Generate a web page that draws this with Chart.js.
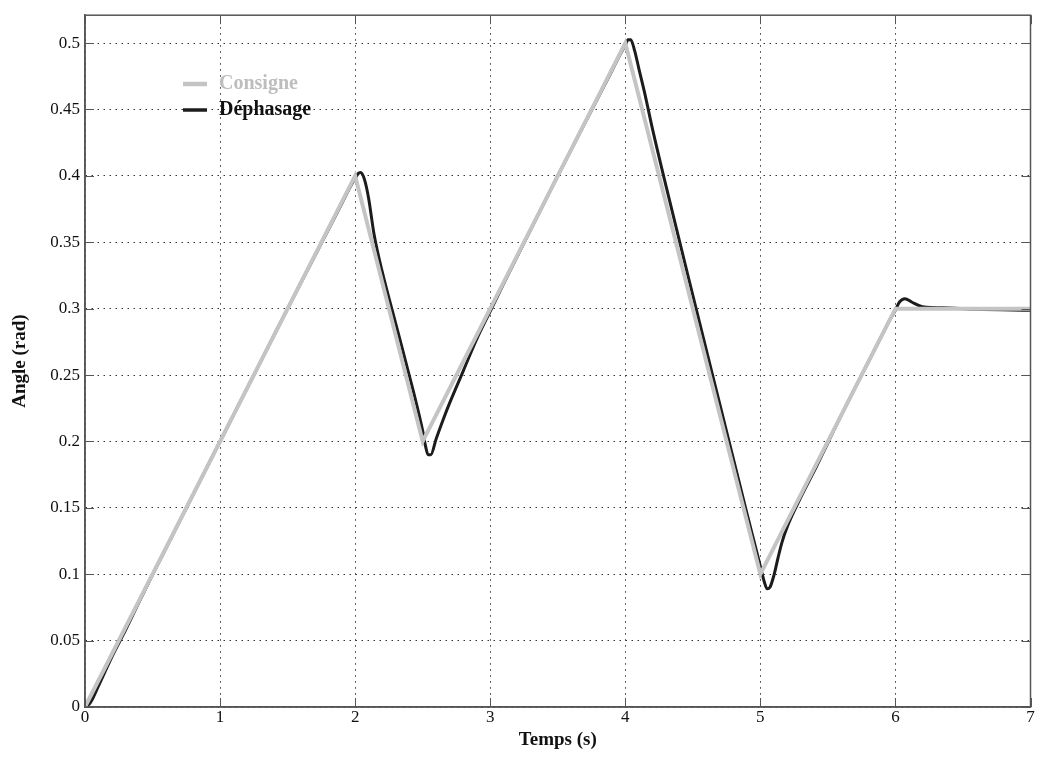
<!DOCTYPE html>
<html>
<head>
<meta charset="utf-8">
<script src="https://cdn.jsdelivr.net/npm/chart.js@4/dist/chart.umd.min.js"></script>
<style>
  html, body { margin: 0; padding: 0; background: #ffffff; }
  #wrap { width: 1041px; height: 764px; }
</style>
</head>
<body>
<div id="wrap"><canvas id="c" width="1041" height="764"></canvas></div>
<script>
// ---- Data ----
const consigneT = [0, 2, 2.5, 4, 5, 6, 7];
const consigneV = [0, 0.4, 0.2, 0.5, 0.1, 0.3, 0.3];

const dephasageT = [0, 0.03, 0.06, 0.1, 0.15, 0.2, 0.3, 0.4, 0.5, 1.0, 1.5, 1.9, 1.97, 2.0, 2.02, 2.04, 2.07, 2.1, 2.14, 2.2, 2.3, 2.4, 2.45, 2.5, 2.52, 2.54, 2.56, 2.6, 2.65, 2.7, 2.8, 2.9, 3.0, 3.1, 3.5, 3.9, 3.97, 4.0, 4.02, 4.04, 4.07, 4.1, 4.14, 4.2, 4.3, 4.5, 4.7, 4.9, 4.95, 5.0, 5.03, 5.05, 5.07, 5.1, 5.13, 5.16, 5.2, 5.3, 5.4, 5.5, 5.6, 5.8, 5.9, 5.95, 6.0, 6.03, 6.07, 6.12, 6.2, 6.4, 6.6, 7.0];
const dephasageV = [0, 0.002, 0.007, 0.016, 0.027, 0.038, 0.058, 0.079, 0.0995, 0.2, 0.3, 0.379, 0.393, 0.398, 0.4015, 0.4025, 0.397, 0.383, 0.356, 0.328, 0.289, 0.25, 0.23, 0.208, 0.197, 0.19, 0.19, 0.202, 0.216, 0.229, 0.253, 0.277, 0.298, 0.319, 0.4, 0.479, 0.493, 0.4985, 0.5025, 0.5025, 0.494, 0.481, 0.464, 0.436, 0.393, 0.31, 0.228, 0.146, 0.126, 0.106, 0.094, 0.089, 0.09, 0.099, 0.112, 0.124, 0.136, 0.158, 0.178, 0.199, 0.22, 0.26, 0.28, 0.29, 0.299, 0.305, 0.3075, 0.305, 0.3015, 0.3005, 0.2995, 0.2988];

const xTicks = [0, 1, 2, 3, 4, 5, 6, 7];
const yTicks = [0, 0.05, 0.1, 0.15, 0.2, 0.25, 0.3, 0.35, 0.4, 0.45, 0.5];
const yTickLabels = ['0', '0.05', '0.1', '0.15', '0.2', '0.25', '0.3', '0.35', '0.4', '0.45', '0.5'];
const seriesNames = ['Consigne', 'Déphasage'];

const GRAY = '#c4c4c4';
const BLACK = '#1c1c1c';
const AXIS = '#555555';
const SERIF = '"Liberation Serif", "Times New Roman", serif';

// ---- Plugin: box border, inward ticks, legend ----
const boxPlugin = {
  id: 'boxPlugin',
  afterDraw(chart) {
    const ctx = chart.ctx;
    const a = chart.chartArea;
    const xs = chart.scales.x, ys = chart.scales.y;
    ctx.save();
    ctx.strokeStyle = AXIS;
    ctx.lineWidth = 1.5;
    ctx.strokeRect(a.left, a.top, a.right - a.left, a.bottom - a.top);
    ctx.lineWidth = 1;
    const L = 9;
    ctx.beginPath();
    xTicks.forEach(v => {
      const px = Math.round(xs.getPixelForValue(v)) + 0.5;
      ctx.moveTo(px, a.bottom); ctx.lineTo(px, a.bottom - L);
      ctx.moveTo(px, a.top); ctx.lineTo(px, a.top + L);
    });
    yTicks.forEach(v => {
      const py = Math.round(ys.getPixelForValue(v)) + 0.5;
      ctx.moveTo(a.left, py); ctx.lineTo(a.left + L, py);
      ctx.moveTo(a.right, py); ctx.lineTo(a.right - L, py);
    });
    ctx.stroke();

    // legend
    const items = [
      { name: seriesNames[0], color: GRAY, text: '#bdbdbd', w: 4.5, y: 84 },
      { name: seriesNames[1], color: BLACK, text: '#111111', w: 3.5, y: 110 }
    ];
    ctx.font = 'bold 20px ' + SERIF;
    ctx.textBaseline = 'middle';
    items.forEach(it => {
      ctx.strokeStyle = it.color;
      ctx.lineWidth = it.w;
      ctx.beginPath();
      ctx.moveTo(183, it.y); ctx.lineTo(207, it.y);
      ctx.stroke();
      ctx.fillStyle = it.text;
      ctx.fillText(it.name, 219, it.y);
    });
    ctx.restore();
  }
};

const toPts = (ts, vs) => ts.map((t, i) => ({ x: t, y: vs[i] }));

new Chart(document.getElementById('c'), {
  type: 'line',
  data: {
    datasets: [
      {
        label: seriesNames[1],
        data: toPts(dephasageT, dephasageV),
        borderColor: BLACK,
        borderWidth: 3,
        pointRadius: 0,
        cubicInterpolationMode: 'monotone',
        fill: false,
        order: 2
      },
      {
        label: seriesNames[0],
        data: toPts(consigneT, consigneV),
        borderColor: GRAY,
        borderWidth: 4,
        pointRadius: 0,
        tension: 0,
        fill: false,
        order: 1
      }
    ]
  },
  options: {
    responsive: false,
    animation: false,
    devicePixelRatio: 1,
    layout: { padding: { top: 13, right: 10.5, left: 0, bottom: 0 } },
    plugins: {
      legend: { display: false },
      tooltip: { enabled: false }
    },
    scales: {
      x: {
        type: 'linear',
        min: 0,
        max: 7,
        afterBuildTicks: s => { s.ticks = xTicks.map(v => ({ value: v })); },
        afterFit: s => { s.height = 57; },
        ticks: {
          color: '#111',
          font: { family: SERIF, size: 17 },
          padding: 0,
          maxRotation: 0,
          autoSkip: false
        },
        grid: { color: '#333', lineWidth: 1, drawTicks: false },
        border: { display: true, color: AXIS, width: 1.5, dash: [1.5, 4.5] },
        title: {
          display: true,
          text: 'Temps (s)',
          color: '#111',
          font: { family: SERIF, size: 19, weight: 'bold' },
          padding: { top: 0, bottom: 13 }
        }
      },
      y: {
        type: 'linear',
        min: 0,
        max: 0.521,
        afterBuildTicks: s => { s.ticks = yTicks.map(v => ({ value: v })); },
        afterFit: s => { s.width = 85; },
        ticks: {
          color: '#111',
          font: { family: SERIF, size: 17 },
          padding: 5,
          autoSkip: false,
          callback: (v) => { const i = yTicks.indexOf(v); return i >= 0 ? yTickLabels[i] : ''; }
        },
        grid: { color: '#333', lineWidth: 1, drawTicks: false },
        border: { display: true, color: AXIS, width: 1.5, dash: [1.5, 4.5] },
        title: {
          display: true,
          text: 'Angle (rad)',
          color: '#111',
          font: { family: SERIF, size: 19, weight: 'bold' },
          padding: { top: 9, bottom: 0 }
        }
      }
    }
  },
  plugins: [boxPlugin]
});
</script>
</body>
</html>
